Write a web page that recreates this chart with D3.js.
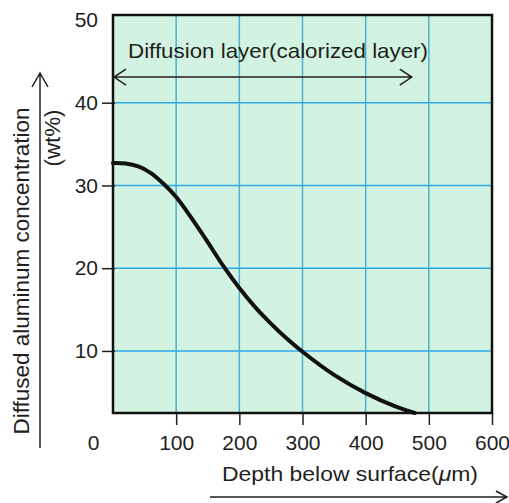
<!DOCTYPE html>
<html>
<head>
<meta charset="utf-8">
<script src="https://cdn.jsdelivr.net/npm/d3@7"></script>
<style>
  body { margin: 0; background: #fff; }
  svg { display: block; font-family: "Liberation Sans", Arial, Helvetica, sans-serif; }
  text { fill: #231f20; }
</style>
</head>
<body>
<svg width="509" height="503"></svg>
<script>
// Data: depth (um) and diffused Al concentration (wt%)
var depth = [0, 20, 40, 60, 80, 100, 140, 177, 200, 225, 250, 275, 300, 350, 400, 450, 478];
var concentration = [32.7, 32.65, 32.3, 31.5, 30.2, 28.6, 24.3, 20.0, 17.6, 15.3, 13.3, 11.5, 9.9, 7.1, 4.9, 3.2, 2.5];

var xTicks = [0, 100, 200, 300, 400, 500, 600];
var yTicks = [10, 20, 30, 40, 50];
var xGrid = [100, 200, 300, 400, 500];
var yGrid = [10, 20, 30, 40];

var svg = d3.select("svg"),
    margin = {top: 15, right: 17, bottom: 90, left: 113},
    width = +svg.attr("width"),
    height = +svg.attr("height");

// Scales: the axis is cut at ~2.5 wt% at the bottom
var x = d3.scaleLinear().domain([0, 600]).range([margin.left, width - margin.right]),
    y = d3.scaleLinear().domain([2.5, 50.6]).range([height - margin.bottom, margin.top]);

var points = depth.map(function(d, i) { return {depth: d, value: concentration[i]}; });

// plot background
svg.append("rect")
    .attr("x", x(0))
    .attr("y", y(50.6))
    .attr("width", x(600) - x(0))
    .attr("height", y(2.5) - y(50.6))
    .attr("fill", "#d2f3e1");

// gridlines
svg.append("g").selectAll("line")
    .data(xGrid)
    .enter().append("line")
    .attr("x1", function(d) { return x(d); })
    .attr("x2", function(d) { return x(d); })
    .attr("y1", y(50.6))
    .attr("y2", y(2.5))
    .attr("stroke", "#4fb0cf")
    .attr("stroke-width", 1.5);

svg.append("g").selectAll("line")
    .data(yGrid)
    .enter().append("line")
    .attr("x1", x(0))
    .attr("x2", x(600))
    .attr("y1", function(d) { return y(d); })
    .attr("y2", function(d) { return y(d); })
    .attr("stroke", "#2ea9e8")
    .attr("stroke-width", 1.6);

// x axis
var xAxis = svg.append("g")
    .attr("transform", "translate(0," + y(2.5) + ")")
    .call(d3.axisBottom(x).tickValues(xTicks).tickSize(12).tickPadding(10).tickFormat(d3.format("d")));
xAxis.select(".domain").remove();
xAxis.selectAll("line").attr("stroke", "#231f20").attr("stroke-width", 1.5)
    .style("opacity", function(d) { return d === 0 ? 0 : 1; });
xAxis.selectAll("text")
    .attr("font-size", 21)
    .attr("font-family", null)
    .attr("fill", "#231f20")
    .attr("dx", function(d) { return d === 0 ? -20 : 0; });

// y axis
var yAxis = svg.append("g")
    .attr("transform", "translate(" + x(0) + ",0)")
    .call(d3.axisLeft(y).tickValues(yTicks).tickSize(11).tickPadding(4));
yAxis.select(".domain").remove();
yAxis.selectAll("line").attr("stroke", "#231f20").attr("stroke-width", 1.5)
    .attr("x2", -11).attr("x1", 2)
    .style("opacity", function(d) { return d === 50 ? 0 : 1; });
yAxis.selectAll("text")
    .attr("font-size", 21)
    .attr("font-family", null)
    .attr("fill", "#231f20");

// frame
svg.append("rect")
    .attr("x", x(0))
    .attr("y", y(50.6))
    .attr("width", x(600) - x(0))
    .attr("height", y(2.5) - y(50.6))
    .attr("fill", "none")
    .attr("stroke", "#111")
    .attr("stroke-width", 2.5);

// concentration curve
var line = d3.line()
    .curve(d3.curveCatmullRom.alpha(0.5))
    .x(function(d) { return x(d.depth); })
    .y(function(d) { return y(d.value); });

svg.append("path")
    .datum(points)
    .attr("d", line)
    .attr("fill", "none")
    .attr("stroke", "#111")
    .attr("stroke-width", 4)
    .attr("stroke-linecap", "round");

// diffusion layer annotation with double arrow
var arrowY = y(43.1), arrowL = x(0) + 1, arrowR = x(473);
svg.append("text")
    .attr("x", 128)
    .attr("y", 58)
    .attr("font-size", 21)
    .attr("textLength", 300)
    .attr("lengthAdjust", "spacingAndGlyphs")
    .text("Diffusion layer(calorized layer)");

svg.append("path")
    .attr("d", "M" + arrowL + "," + arrowY + "H" + arrowR +
        "M" + (arrowL + 12) + "," + (arrowY - 8) + "L" + arrowL + "," + arrowY + "L" + (arrowL + 12) + "," + (arrowY + 8) +
        "M" + (arrowR - 12) + "," + (arrowY - 8) + "L" + arrowR + "," + arrowY + "L" + (arrowR - 12) + "," + (arrowY + 8))
    .attr("fill", "none")
    .attr("stroke", "#231f20")
    .attr("stroke-width", 1.5);

// y label + arrow
svg.append("text")
    .attr("transform", "translate(29,271) rotate(-90)")
    .attr("text-anchor", "middle")
    .attr("font-size", 22)
    .attr("textLength", 327)
    .attr("lengthAdjust", "spacingAndGlyphs")
    .text("Diffused aluminum concentration");

svg.append("text")
    .attr("transform", "translate(60,138) rotate(-90)")
    .attr("text-anchor", "middle")
    .attr("font-size", 22)
    .attr("textLength", 57)
    .attr("lengthAdjust", "spacingAndGlyphs")
    .text("(wt%)");

svg.append("path")
    .attr("d", "M40,448V73M32,87L40,73L48,87")
    .attr("fill", "none")
    .attr("stroke", "#231f20")
    .attr("stroke-width", 1.5);

// x label + arrow
var xLabel = svg.append("text")
    .attr("x", 222)
    .attr("y", 481)
    .attr("font-size", 21)
    .attr("textLength", 256)
    .attr("lengthAdjust", "spacingAndGlyphs");
xLabel.append("tspan").text("Depth below surface(");
xLabel.append("tspan").attr("font-style", "italic").text("\u03bc");
xLabel.append("tspan").text("m)");

svg.append("path")
    .attr("d", "M210,497H507M496,491L507,497L496,503")
    .attr("fill", "none")
    .attr("stroke", "#231f20")
    .attr("stroke-width", 1.5);
</script>
</body>
</html>
